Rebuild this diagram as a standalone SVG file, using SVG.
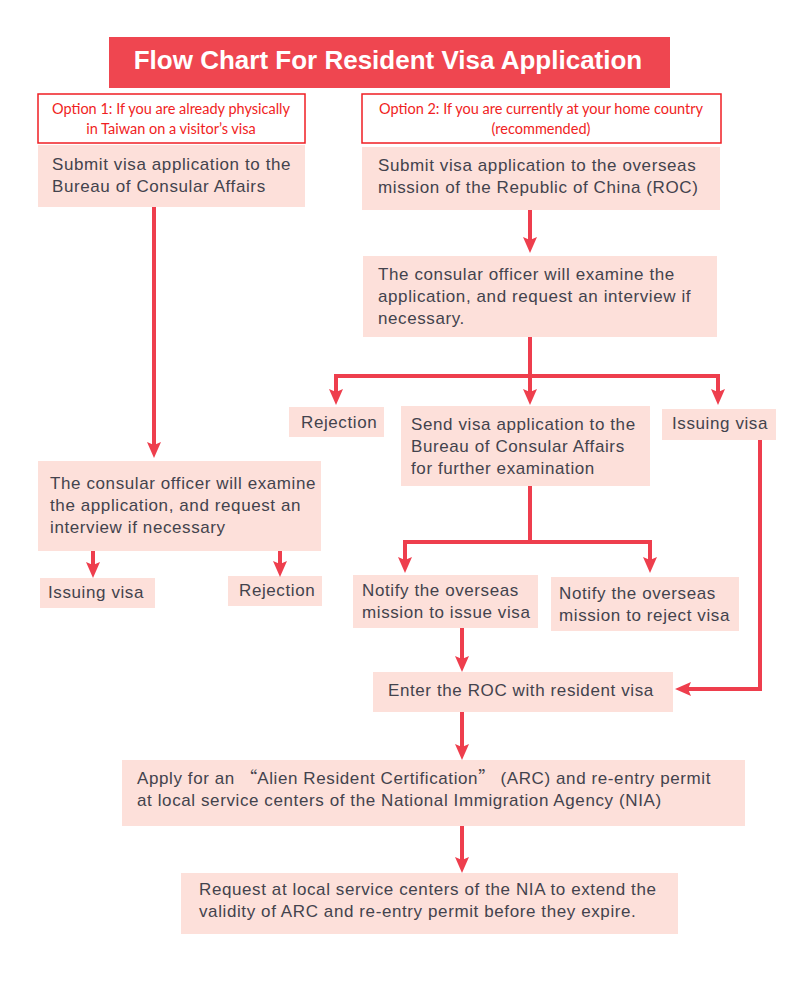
<svg xmlns="http://www.w3.org/2000/svg" width="801" height="988" viewBox="0 0 801 988">
<style>
.box{fill:#fde0da;}
.opt{fill:#fff;stroke:#f01e23;stroke-width:1.5;}
.t{font-family:"Liberation Sans",Arial,sans-serif;font-size:17px;letter-spacing:0.6px;fill:#43434d;}
.q{font-family:"Noto Sans CJK SC",sans-serif;letter-spacing:0;}
.o{font-family:Lato,"Liberation Sans",sans-serif;font-size:14.5px;fill:#f01e23;text-anchor:middle;}
.c{fill:none;stroke:#ee3e4d;stroke-width:4;}
</style>
<defs>
<marker id="ah" viewBox="0 0 16 14" refX="6" refY="7" markerWidth="16" markerHeight="14" markerUnits="userSpaceOnUse" orient="auto">
<path d="M0,0 L16,7 L0,14 L3,7 z" fill="#ee3e4d"/>
</marker>
</defs>
<rect width="801" height="988" fill="#fff"/>
<g id="title">
<rect x="109" y="37" width="561" height="51" fill="#ef4650"/>
<text x="388" y="69" text-anchor="middle" font-family="Liberation Sans,Arial,sans-serif" font-weight="bold" font-size="26" fill="#fff">Flow Chart For Resident Visa Application</text>
</g>
<g id="option1">
<rect class="opt" x="38" y="94" width="267" height="49"/>
<text class="o" x="171" y="114">Option 1: If you are already physically</text>
<text class="o" x="171" y="134">in Taiwan on a visitor’s visa</text>
</g>
<g id="option2">
<rect class="opt" x="362" y="94" width="359" height="49"/>
<text class="o" x="541" y="114">Option 2: If you are currently at your home country</text>
<text class="o" x="541" y="134">(recommended)</text>
</g>
<g id="submitBCA">
<rect class="box" x="38" y="145" width="267" height="62"/>
<text class="t" x="52" y="170">Submit visa application to the</text>
<text class="t" x="52" y="192">Bureau of Consular Affairs</text>
</g>
<g id="submitOverseas">
<rect class="box" x="362" y="147" width="358" height="63"/>
<text class="t" x="378" y="171">Submit visa application to the overseas</text>
<text class="t" x="378" y="193">mission of the Republic of China (ROC)</text>
</g>
<g id="examineRight">
<rect class="box" x="363" y="256" width="354" height="81"/>
<text class="t" x="378" y="280">The consular officer will examine the</text>
<text class="t" x="378" y="302">application, and request an interview if</text>
<text class="t" x="378" y="324">necessary.</text>
</g>
<g id="rejectionRight">
<rect class="box" x="289" y="407" width="95" height="30"/>
<text class="t" x="301" y="428">Rejection</text>
</g>
<g id="sendBCA">
<rect class="box" x="401" y="406" width="249" height="80"/>
<text class="t" x="411" y="430">Send visa application to the</text>
<text class="t" x="411" y="452">Bureau of Consular Affairs</text>
<text class="t" x="411" y="474">for further examination</text>
</g>
<g id="issuingRight">
<rect class="box" x="662" y="409" width="114" height="31"/>
<text class="t" x="672" y="429">Issuing visa</text>
</g>
<g id="examineLeft">
<rect class="box" x="38" y="461" width="283" height="90"/>
<text class="t" x="50" y="489">The consular officer will examine</text>
<text class="t" x="50" y="511">the application, and request an</text>
<text class="t" x="50" y="533">interview if necessary</text>
</g>
<g id="issuingLeft">
<rect class="box" x="40" y="578" width="115" height="30"/>
<text class="t" x="48" y="598">Issuing visa</text>
</g>
<g id="rejectionLeft">
<rect class="box" x="228" y="576" width="94" height="30"/>
<text class="t" x="239" y="596">Rejection</text>
</g>
<g id="notifyIssue">
<rect class="box" x="353" y="575" width="185" height="53"/>
<text class="t" x="362" y="596">Notify the overseas</text>
<text class="t" x="362" y="618">mission to issue visa</text>
</g>
<g id="notifyReject">
<rect class="box" x="551" y="577" width="188" height="54"/>
<text class="t" x="559" y="599">Notify the overseas</text>
<text class="t" x="559" y="621">mission to reject visa</text>
</g>
<g id="enterROC">
<rect class="box" x="373" y="672" width="300" height="40"/>
<text class="t" x="388" y="696">Enter the ROC with resident visa</text>
</g>
<g id="applyARC">
<rect class="box" x="122" y="760" width="623" height="66"/>
<text class="t" x="137" y="784">Apply for an <tspan class="q">“</tspan>Alien Resident Certification<tspan class="q">”</tspan> (ARC) and re-entry permit</text>
<text class="t" x="137" y="806">at local service centers of the National Immigration Agency (NIA)</text>
</g>
<g id="extendARC">
<rect class="box" x="181" y="873" width="497" height="61"/>
<text class="t" x="199" y="895">Request at local service centers of the NIA to extend the</text>
<text class="t" x="199" y="917">validity of ARC and re-entry permit before they expire.</text>
</g>
<g id="connectors">
<path class="c" d="M154,207 V448" marker-end="url(#ah)"/>
<path class="c" d="M530,210 V243" marker-end="url(#ah)"/>
<path class="c" d="M530,337 V395" marker-end="url(#ah)"/>
<path class="c" d="M530,376 H336 V395" marker-end="url(#ah)"/>
<path class="c" d="M530,376 H718 V395" marker-end="url(#ah)"/>
<path class="c" d="M93,551 V568" marker-end="url(#ah)"/>
<path class="c" d="M280,551 V567" marker-end="url(#ah)"/>
<path class="c" d="M530,486 V542 H405 V563" marker-end="url(#ah)"/>
<path class="c" d="M530,542 H650 V563" marker-end="url(#ah)"/>
<path class="c" d="M462,628 V662" marker-end="url(#ah)"/>
<path class="c" d="M760,440 V689 H685" marker-end="url(#ah)"/>
<path class="c" d="M462,712 V750" marker-end="url(#ah)"/>
<path class="c" d="M462,826 V863" marker-end="url(#ah)"/>
</g>
</svg>
